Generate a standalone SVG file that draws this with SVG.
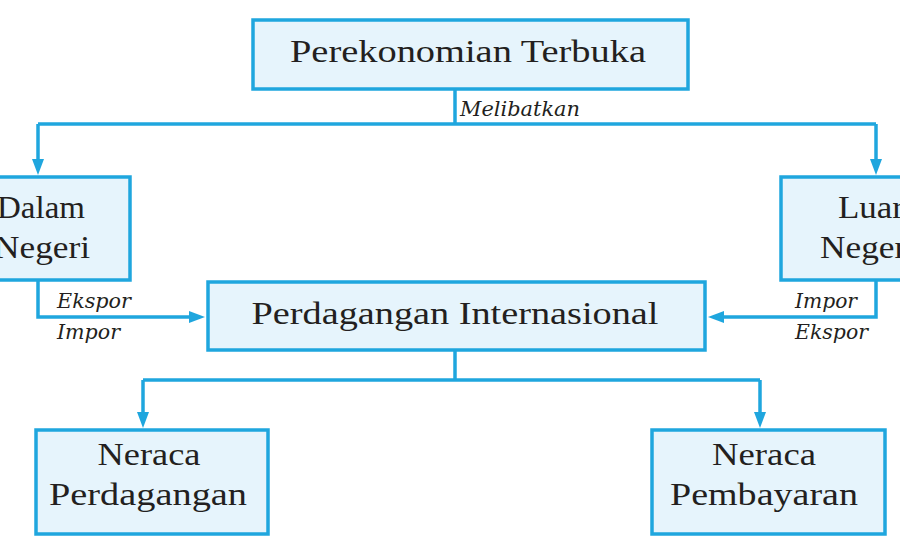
<svg xmlns="http://www.w3.org/2000/svg" width="900" height="560" viewBox="0 0 900 560">
<defs>
<style>
.box{fill:#e6f4fc;stroke:#1fa6de;stroke-width:3.5}
.ln{fill:none;stroke:#1fa6de;stroke-width:3.5}
.t{font-family:"Liberation Serif","Times New Roman",serif;font-size:31px;fill:#231f20;text-anchor:middle}
.it{font-family:"DejaVu Serif","Liberation Serif",serif;font-size:20px;font-style:italic;fill:#231f20}
</style>
<marker id="ah" viewBox="0 0 16 12" refX="8" refY="6" markerWidth="16" markerHeight="12" markerUnits="userSpaceOnUse" orient="auto">
<path d="M0 0 L16 6 L0 12 Z" fill="#1fa6de"/>
</marker>
</defs>
<rect width="900" height="560" fill="#ffffff"/>
<g id="connectors">
<path class="ln" d="M455 89 V124"/>
<path class="ln" d="M38 124 H876"/>
<path class="ln" d="M38 124 V167" marker-end="url(#ah)"/>
<path class="ln" d="M876 124 V167" marker-end="url(#ah)"/>
<path class="ln" d="M38 280 V317 H197" marker-end="url(#ah)"/>
<path class="ln" d="M876 280 V317 H716" marker-end="url(#ah)"/>
<path class="ln" d="M455 350 V380"/>
<path class="ln" d="M143 380 H760"/>
<path class="ln" d="M143 380 V420" marker-end="url(#ah)"/>
<path class="ln" d="M760 380 V420" marker-end="url(#ah)"/>
<text class="it" x="460" y="116" textLength="120" lengthAdjust="spacingAndGlyphs">Melibatkan</text>
<text class="it" x="57" y="308" textLength="74" lengthAdjust="spacingAndGlyphs">Ekspor</text>
<text class="it" x="57" y="339" textLength="63" lengthAdjust="spacingAndGlyphs">Impor</text>
<text class="it" x="795" y="308" textLength="62" lengthAdjust="spacingAndGlyphs">Impor</text>
<text class="it" x="795" y="339" textLength="73" lengthAdjust="spacingAndGlyphs">Ekspor</text>
</g>
<g id="perekonomian-terbuka">
<rect class="box" x="253" y="20" width="435" height="69"/>
<text class="t" x="468" y="62" textLength="356" lengthAdjust="spacingAndGlyphs">Perekonomian Terbuka</text>
</g>
<g id="dalam-negeri">
<rect class="box" x="-54" y="177" width="184" height="103"/>
<text class="t" x="41" y="218" textLength="88" lengthAdjust="spacingAndGlyphs">Dalam</text>
<text class="t" x="42" y="258" textLength="96" lengthAdjust="spacingAndGlyphs">Negeri</text>
</g>
<g id="luar-negeri">
<rect class="box" x="781" y="177" width="184" height="103"/>
<text class="t" x="871" y="218" textLength="66" lengthAdjust="spacingAndGlyphs">Luar</text>
<text class="t" x="868" y="258" textLength="96" lengthAdjust="spacingAndGlyphs">Negeri</text>
</g>
<g id="perdagangan-internasional">
<rect class="box" x="208" y="282" width="497" height="68"/>
<text class="t" x="455" y="324" textLength="407" lengthAdjust="spacingAndGlyphs">Perdagangan Internasional</text>
</g>
<g id="neraca-perdagangan">
<rect class="box" x="36" y="430" width="232" height="104"/>
<text class="t" x="149" y="465" textLength="103" lengthAdjust="spacingAndGlyphs">Neraca</text>
<text class="t" x="148" y="505" textLength="198" lengthAdjust="spacingAndGlyphs">Perdagangan</text>
</g>
<g id="neraca-pembayaran">
<rect class="box" x="652" y="430" width="233" height="104"/>
<text class="t" x="764" y="465" textLength="104" lengthAdjust="spacingAndGlyphs">Neraca</text>
<text class="t" x="764" y="505" textLength="188" lengthAdjust="spacingAndGlyphs">Pembayaran</text>
</g>
</svg>
